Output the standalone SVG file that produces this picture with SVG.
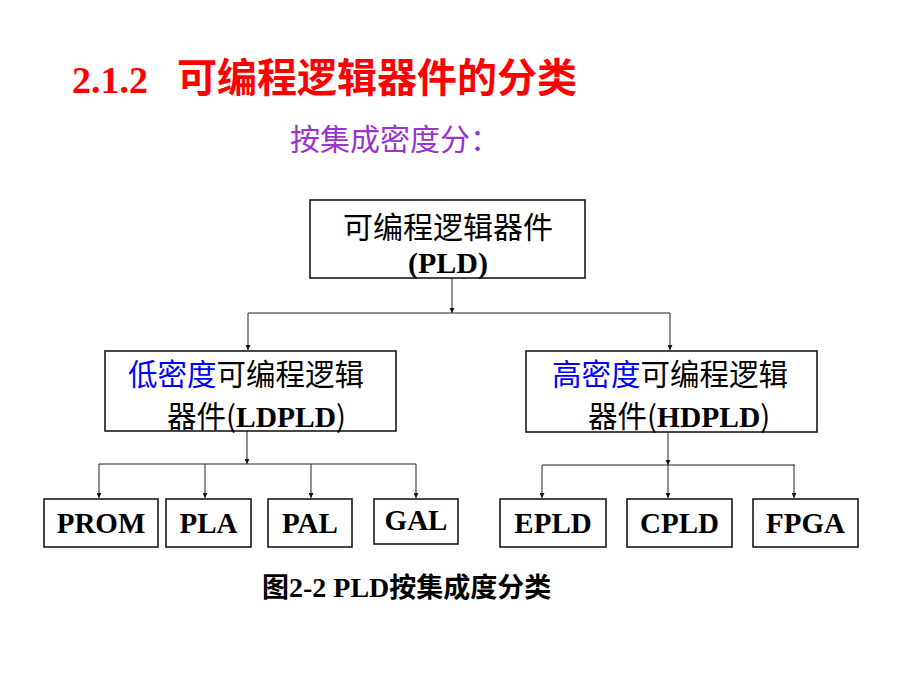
<svg xmlns="http://www.w3.org/2000/svg" width="920" height="690" viewBox="0 0 920 690">
<style>
.cjk{font-family:"Noto Sans CJK SC","Noto Sans",sans-serif}
.tb{font-family:"Liberation Serif","Times New Roman",serif;font-weight:bold}
.box{fill:#fff;stroke:#1a1a1a;stroke-width:1.6}
.con{fill:none;stroke:#222;stroke-width:1}
.blue{fill:#0000FF}
</style>
<defs>
<marker id="ah" viewBox="0 0 8 8" refX="8" refY="4" markerWidth="5" markerHeight="5" orient="auto" markerUnits="userSpaceOnUse">
<path d="M0,0 L8,4 L0,8 z" fill="#111"/>
</marker>
</defs>
<rect width="920" height="690" fill="#fff"/>

<g id="title">
<text x="72" y="93" class="tb" font-size="38" fill="#FF0000">2.1.2</text>
<text x="177" y="92" class="cjk" font-size="40" font-weight="bold" fill="#FF0000">可编程逻辑器件的分类</text>
</g>
<g id="subtitle">
<text x="290" y="150" class="cjk" font-size="30" fill="#9933CC">按集成密度分：</text>
</g>

<g id="connectors">
<line class="con" x1="452" y1="278" x2="452" y2="313" marker-end="url(#ah)"/>
<line class="con" x1="248" y1="313" x2="670" y2="313"/>
<line class="con" x1="248" y1="313" x2="248" y2="350" marker-end="url(#ah)"/>
<line class="con" x1="670" y1="313" x2="670" y2="350" marker-end="url(#ah)"/>
<line class="con" x1="247" y1="431" x2="247" y2="464" marker-end="url(#ah)"/>
<line class="con" x1="99" y1="464" x2="416" y2="464"/>
<line class="con" x1="99" y1="464" x2="99" y2="498" marker-end="url(#ah)"/>
<line class="con" x1="205" y1="464" x2="205" y2="498" marker-end="url(#ah)"/>
<line class="con" x1="311" y1="464" x2="311" y2="498" marker-end="url(#ah)"/>
<line class="con" x1="416" y1="464" x2="416" y2="498" marker-end="url(#ah)"/>
<line class="con" x1="668" y1="432" x2="668" y2="465" marker-end="url(#ah)"/>
<line class="con" x1="542" y1="465" x2="795" y2="465"/>
<line class="con" x1="542" y1="465" x2="542" y2="498" marker-end="url(#ah)"/>
<line class="con" x1="668" y1="465" x2="668" y2="498" marker-end="url(#ah)"/>
<line class="con" x1="794" y1="465" x2="794" y2="498" marker-end="url(#ah)"/>
</g>

<g id="pld">
<rect class="box" x="310" y="200" width="275" height="78"/>
<text x="448" y="238" class="cjk" font-size="30" text-anchor="middle">可编程逻辑器件</text>
<text x="448" y="273" class="tb" font-size="30" text-anchor="middle">(PLD)</text>
</g>

<g id="ldpld">
<rect class="box" x="105" y="351" width="291" height="80"/>
<text x="128" y="385" class="cjk" font-size="29.5"><tspan class="blue">低密度</tspan>可编程逻辑</text>
<text x="167" y="427" font-size="29.5"><tspan class="cjk">器件(</tspan><tspan class="tb">LDPLD</tspan><tspan class="cjk">)</tspan></text>
</g>

<g id="hdpld">
<rect class="box" x="526" y="351" width="291" height="81"/>
<text x="552" y="385" class="cjk" font-size="29.5"><tspan class="blue">高密度</tspan>可编程逻辑</text>
<text x="588" y="427" font-size="29.5"><tspan class="cjk">器件(</tspan><tspan class="tb">HDPLD</tspan><tspan class="cjk">)</tspan></text>
</g>

<g id="prom">
<rect class="box" x="44" y="499" width="114" height="48"/>
<text x="101" y="533" class="tb" font-size="29" text-anchor="middle">PROM</text>
</g>
<g id="pla">
<rect class="box" x="166" y="499" width="85" height="48"/>
<text x="208.5" y="533" class="tb" font-size="29" text-anchor="middle">PLA</text>
</g>
<g id="pal">
<rect class="box" x="268" y="499" width="84" height="48"/>
<text x="310" y="533" class="tb" font-size="29" text-anchor="middle">PAL</text>
</g>
<g id="gal">
<rect class="box" x="374" y="499" width="84" height="45"/>
<text x="416" y="530" class="tb" font-size="29" text-anchor="middle">GAL</text>
</g>
<g id="epld">
<rect class="box" x="500" y="499" width="106" height="48"/>
<text x="553" y="533" class="tb" font-size="29" text-anchor="middle">EPLD</text>
</g>
<g id="cpld">
<rect class="box" x="627" y="499" width="105" height="48"/>
<text x="679.5" y="533" class="tb" font-size="29" text-anchor="middle">CPLD</text>
</g>
<g id="fpga">
<rect class="box" x="753" y="499" width="105" height="48"/>
<text x="805.5" y="533" class="tb" font-size="29" text-anchor="middle">FPGA</text>
</g>

<g id="caption">
<text x="262" y="597"><tspan class="cjk" font-size="27" font-weight="bold">图</tspan><tspan class="tb" font-size="28">2-2 PLD</tspan><tspan class="cjk" font-size="27" font-weight="bold">按集成度分类</tspan></text>
</g>
</svg>
